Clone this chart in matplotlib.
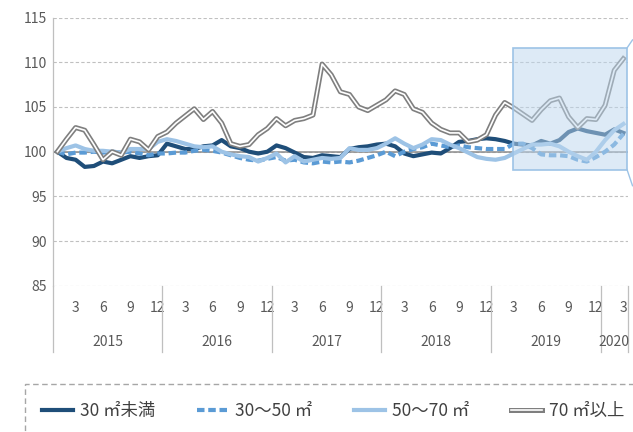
import numpy as np
import matplotlib
matplotlib.use("Agg")
import matplotlib.pyplot as plt
from matplotlib import patheffects
from matplotlib.patches import Rectangle
from matplotlib.lines import Line2D
from matplotlib.transforms import blended_transform_factory

plt.rcParams['font.family'] = ['Liberation Sans Narrow', 'Noto Sans CJK JP', 'DejaVu Sans']

# 2015-01 .. 2020-03, index 2015-01 = 100
years = [2015, 2016, 2017, 2018, 2019, 2020]
months_per_year = [12, 12, 12, 12, 12, 3]
month_ticks = [3, 6, 9, 12]

labels = ["30 ㎡未満", "30～50 ㎡", "50～70 ㎡", "70 ㎡以上"]

under30 = [100.0, 99.3, 99.1, 98.3, 98.4, 98.9, 98.7, 99.1, 99.5, 99.3, 99.5, 99.6,
           100.9, 100.6, 100.3, 100.3, 100.6, 100.7, 101.3, 100.6, 100.4, 100.0, 99.8, 100.0,
           100.7, 100.4, 99.9, 99.4, 99.3, 99.6, 99.5, 99.4, 100.3, 100.5, 100.6, 100.8,
           100.9, 100.6, 99.8, 99.5, 99.7, 99.9, 99.8, 100.4, 101.1, 101.2, 101.4, 101.5,
           101.4, 101.2, 100.9, 100.8, 100.7, 101.2, 100.9, 101.3, 102.2, 102.6, 102.3, 102.1,
           101.9, 102.5, 102.1]
m30_50 = [100.0, 99.7, 99.9, 99.9, 100.0, 99.9, 100.0, 99.9, 100.0, 99.8, 99.6, 99.8,
          99.8, 99.9, 99.9, 100.1, 100.2, 100.1, 99.9, 99.6, 99.3, 99.1, 99.0, 99.2,
          99.4, 99.0, 99.1, 98.8, 98.7, 98.9, 98.8, 98.9, 98.8, 99.0, 99.3, 99.6,
          100.0, 99.5, 100.0, 100.3, 100.5, 100.9, 100.7, 100.5, 100.7, 100.5, 100.4, 100.3,
          100.3, 100.3, 100.9, 100.9, 100.4, 99.7, 99.6, 99.6, 99.5, 99.1, 98.9, 99.4,
          100.0, 100.8, 102.0]
m50_70 = [100.0, 100.4, 100.7, 100.3, 100.1, 100.1, 100.0, 99.9, 100.3, 100.3, 100.3, 101.1,
          101.4, 101.2, 100.9, 100.6, 100.5, 100.6, 100.0, 99.7, 99.5, 99.4, 98.9, 99.3,
          99.8, 98.8, 99.5, 98.9, 99.1, 99.3, 99.2, 99.3, 100.4, 100.2, 100.2, 100.4,
          100.9, 101.5, 100.9, 100.4, 100.8, 101.4, 101.3, 100.8, 100.4, 99.9, 99.4, 99.2,
          99.1, 99.3, 99.8, 100.3, 100.8, 100.8, 100.9, 100.6, 100.0, 99.5, 99.1, 100.0,
          101.3, 102.4, 103.1]
over70 = [100.0, 101.4, 102.7, 102.4, 100.8, 99.1, 100.0, 99.6, 101.4, 101.1, 100.2, 101.7,
          102.2, 103.2, 104.0, 104.8, 103.6, 104.5, 103.2, 100.9, 100.6, 100.8, 101.9, 102.6,
          103.7, 102.9, 103.5, 103.7, 104.1, 109.8, 108.6, 106.7, 106.4, 105.0, 104.6, 105.2,
          105.8, 106.8, 106.4, 104.8, 104.4, 103.2, 102.5, 102.1, 102.1, 101.1, 101.3, 101.9,
          104.1, 105.5, 104.9, 104.2, 103.5, 104.7, 105.7, 106.0, 103.9, 102.7, 103.7, 103.6,
          105.2, 109.1, 110.4]

grey_txt = '#595959'
axis_grey = '#BFBFBF'

n = len(under30)
x = np.arange(n)

fig = plt.figure(figsize=(6.33, 4.32), dpi=100)
ax = fig.add_axes([0.0834, 0.3384, 0.9086, 0.6209])
ax.set_xlim(-0.5, n - 0.5)
ax.set_ylim(85, 115)

# grid and the 100 base line
ax.set_yticks(range(85, 116, 5))
ax.yaxis.grid(True, color='#C0C0C0', lw=0.8, ls=(0, (3, 2)))
ax.set_axisbelow(True)
ax.axhline(100, color='#8C8C8C', lw=1.1, zorder=2)

l1, = ax.plot(x, under30, color='#1F4E79', lw=3.0, solid_joinstyle='round', zorder=3)
l2, = ax.plot(x, m30_50, color='#5B9BD5', lw=3.0, dashes=(1.8, 0.9), dash_capstyle='butt', zorder=3)
l3, = ax.plot(x, m50_70, color='#9DC3E6', lw=3.0, solid_joinstyle='round', zorder=3)
l4, = ax.plot(x, over70, color='white', lw=1.2, zorder=3,
              path_effects=[patheffects.withStroke(linewidth=3.6, foreground='#7F7F7F')])

# highlight box over 2019-03 .. 2020-03
rx0, rx1, ry0, ry1 = 49.9, n - 0.6, 98.0, 111.6
ax.add_patch(Rectangle((rx0, ry0), rx1 - rx0, ry1 - ry0, facecolor=(0.741, 0.843, 0.933, 0.5),
                       edgecolor='#9DC3E6', lw=1.2, zorder=4))
ax.add_line(Line2D([rx1, rx1 + 0.6], [ry1, ry1 + 0.9], color='#9DC3E6', lw=1.0, clip_on=False, zorder=4))
ax.add_line(Line2D([rx1, rx1 + 0.6], [ry0, ry0 - 1.8], color='#9DC3E6', lw=1.0, clip_on=False, zorder=4))

for side in ['top', 'right', 'bottom']:
    ax.spines[side].set_visible(False)
ax.spines['left'].set_color(axis_grey)
ax.spines['left'].set_linewidth(0.9)

ax.tick_params(axis='y', length=0, pad=4, labelcolor=grey_txt, labelsize=10)

# month labels as ticks, year labels and separators below
month_pos = []
month_lab = []
start = 0
bounds = [-0.5]
for yr, cnt in zip(years, months_per_year):
    for m in range(1, cnt + 1):
        if m in month_ticks:
            month_pos.append(start + m - 1)
            month_lab.append(str(m))
    start += cnt
    bounds.append(start - 0.5)
ax.set_xticks(month_pos, month_lab)
ax.tick_params(axis='x', length=0, pad=16, labelcolor=grey_txt, labelsize=10)
for t in ax.get_xticklabels():
    t.set_va('center')

trans = blended_transform_factory(ax.transData, ax.transAxes)
for b in bounds:
    ax.plot([b, b], [0, -0.247], transform=trans, color=axis_grey, lw=0.9, clip_on=False)
for i, yr in enumerate(years):
    ax.text((bounds[i] + bounds[i + 1]) / 2, -0.2095, str(yr), transform=trans,
            ha='center', va='center', fontsize=10, color=grey_txt)

# legend in a dashed box
fig.add_artist(Rectangle((25 / 633, -0.05), 1.0, 0.1611, transform=fig.transFigure, fill=False,
                         edgecolor='#A6A6A6', lw=1.0, ls=(0, (4, 2.5)), clip_on=False))
fig.legend([l1, l2, l3, l4], labels, loc='center left', bbox_to_anchor=(42 / 633, 0.0486),
           ncol=4, frameon=False, fontsize=12.5, handlelength=1.8, handletextpad=0.4,
           columnspacing=2.4, borderpad=0, borderaxespad=0, labelcolor='#404040')

fig.savefig('out.png', dpi=100)
